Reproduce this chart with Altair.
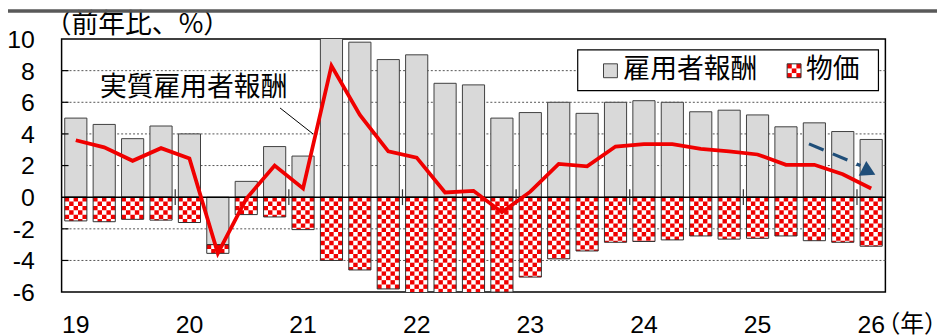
import math
import altair as alt
import pandas as pd

# ---------------- data ----------------
quarters = [
    "2019Q1", "2019Q2", "2019Q3", "2019Q4",
    "2020Q1", "2020Q2", "2020Q3", "2020Q4",
    "2021Q1", "2021Q2", "2021Q3", "2021Q4",
    "2022Q1", "2022Q2", "2022Q3", "2022Q4",
    "2023Q1", "2023Q2", "2023Q3", "2023Q4",
    "2024Q1", "2024Q2", "2024Q3", "2024Q4",
    "2025Q1", "2025Q2", "2025Q3", "2025Q4",
    "2026Q1",
]
year_labels = ["19", "20", "21", "22", "23", "24", "25", "26"]

# 雇用者報酬 (nominal compensation, % y/y)
comp = [5.0, 4.6, 3.7, 4.5, 4.0, -3.0, 1.0, 3.2, 2.6, 12.3,
        9.8, 8.7, 9.0, 7.2, 7.1, 5.0, 5.35, 6.0, 5.3, 6.0,
        6.1, 6.0, 5.4, 5.5, 5.2, 4.45, 4.7, 4.15, 3.65]
# 物価 (price contribution, % pt)
price = [-1.5, -1.55, -1.4, -1.45, -1.6, -0.55, -1.1, -1.25, -2.05, -4.0,
         -4.6, -5.8, -6.5, -6.9, -6.7, -6.0, -5.05, -3.9, -3.4, -2.85,
         -2.8, -2.7, -2.45, -2.65, -2.6, -2.45, -2.75, -2.85, -3.1]
# 実質雇用者報酬 (real compensation, % y/y)
real = [3.6, 3.15, 2.3, 3.1, 2.45, -3.55, -0.1, 2.0, 0.55, 8.3,
        5.2, 2.9, 2.5, 0.3, 0.4, -0.95, 0.35, 2.1, 1.95, 3.2,
        3.35, 3.35, 3.05, 2.9, 2.7, 2.05, 2.05, 1.45, 0.55]

grid_values = [-4, -2, 2, 4, 6, 8]
y_tick_values = [-6, -4, -2, 0, 2, 4, 6, 8, 10]

# annotation anchors (data coordinates)
annot_text = "実質雇用者報酬"
annot_pos = (4.15, 6.9)
leader = [(7.19, 5.64), (8.35, 4.0)]
arrow_shaft = [(25.81, 3.37), (27.62, 2.0)]
arrow_head = (27.92, 1.62)

# ---------------- tables ----------------
n = len(quarters)
half = 0.39
bars = pd.DataFrame({
    "q": quarters,
    "i": list(range(n)),
    "comp": comp,
    "price": price,
    "real": real,
})
bars["x0"] = bars["i"] - half
bars["x1"] = bars["i"] + half
bars["zero"] = 0.0
bars["ptop"] = [min(0.0, c) for c in comp]
bars["pbot"] = bars["ptop"] + bars["price"]

# checkerboard cells for the price bars
ncol = 5
cw = 2 * half / ncol
ch = 0.276
cells = []
for i, (c, p) in enumerate(zip(comp, price)):
    top = min(0.0, c)
    bot = top + p
    nrows = math.ceil((top - bot) / ch - 1e-9)
    for r in range(nrows):
        ya = top - r * ch
        yb = max(top - (r + 1) * ch, bot)
        for k in range(ncol):
            if (r + k) % 2 == 0:
                cells.append({"cx": i - half + k * cw, "cx2": i - half + (k + 1) * cw,
                              "cy": ya, "cy2": yb})
cells = pd.DataFrame(cells)

XS = alt.Scale(domain=[-0.5, n - 0.5], nice=False, zero=False)
YS = alt.Scale(domain=[-6, 10], nice=False, zero=False)

JP = "Noto Sans CJK JP"
NUM = "Liberation Sans"
RED = "#F00000"
BLUE = "#1F4E79"

base = alt.Chart(bars)

gray = base.mark_rect(fill="#D9D9D9", stroke="#404040", strokeWidth=1, clip=True).encode(
    x=alt.X("x0:Q", scale=XS, axis=None), x2="x1:Q",
    y=alt.Y("zero:Q", scale=YS, axis=None), y2="comp:Q",
)

grid = alt.Chart(pd.DataFrame({"g": grid_values})).mark_rule(
    color="#555555", strokeWidth=1, strokeDash=[2, 2]
).encode(y=alt.Y("g:Q", scale=YS, axis=None))

inner_ticks = alt.Chart(pd.DataFrame({"g": grid_values})).mark_rule(
    color="black", strokeWidth=1.2
).encode(y=alt.Y("g:Q", scale=YS, axis=None), x=alt.value(0), x2=alt.value(7))

pbg = base.mark_rect(fill="white", clip=True).encode(
    x=alt.X("x0:Q", scale=XS, axis=None), x2="x1:Q",
    y=alt.Y("ptop:Q", scale=YS, axis=None), y2="pbot:Q",
)

pcells = alt.Chart(cells).mark_rect(fill=RED, clip=True).encode(
    x=alt.X("cx:Q", scale=XS, axis=None), x2="cx2:Q",
    y=alt.Y("cy:Q", scale=YS, axis=None), y2="cy2:Q",
)

poutline = base.mark_rect(fillOpacity=0, stroke="#303030", strokeWidth=1, clip=True).encode(
    x=alt.X("x0:Q", scale=XS, axis=None), x2="x1:Q",
    y=alt.Y("ptop:Q", scale=YS, axis=None), y2="pbot:Q",
)

zero_line = alt.Chart(pd.DataFrame({"z": [0]})).mark_rule(color="black", strokeWidth=1.5).encode(
    y=alt.Y("z:Q", scale=YS, axis=None)
)

ytk = pd.DataFrame({"b": [4 * k - 0.5 for k in range(1, len(year_labels))]})
ytk["lo"] = -0.5
ytk["hi"] = 0.5
year_ticks = alt.Chart(ytk).mark_rule(color="#303030", strokeWidth=1.2).encode(
    x=alt.X("b:Q", scale=XS, axis=None),
    y=alt.Y("lo:Q", scale=YS, axis=None), y2="hi:Q",
)

# axis labels (drawn as text through the scales)
ylab = pd.DataFrame({"v": y_tick_values, "t": [str(v) for v in y_tick_values]})
y_labels = alt.Chart(ylab).mark_text(
    font=NUM, fontSize=25, color="black", align="right", baseline="middle", dy=1
).encode(x=alt.value(-27), y=alt.Y("v:Q", scale=YS, axis=None), text="t:N")

xlab = pd.DataFrame({"p": [4 * k for k in range(len(year_labels))], "t": year_labels})
x_labels = alt.Chart(xlab).mark_text(
    font=NUM, fontSize=25, color="black", align="center", baseline="top"
).encode(x=alt.X("p:Q", scale=XS, axis=None), y=alt.value(276), text="t:N")

line = base.mark_line(color=RED, strokeWidth=3.8, clip=True).encode(
    x=alt.X("i:Q", scale=XS, axis=None), y=alt.Y("real:Q", scale=YS, axis=None)
)

shaft_df = pd.DataFrame({"ax": [p[0] for p in arrow_shaft], "ay": [p[1] for p in arrow_shaft]})
shaft = alt.Chart(shaft_df).mark_line(color=BLUE, strokeWidth=3.2, strokeDash=[16, 10]).encode(
    x=alt.X("ax:Q", scale=XS, axis=None), y=alt.Y("ay:Q", scale=YS, axis=None)
)
head = alt.Chart(pd.DataFrame({"ax": [arrow_head[0]], "ay": [arrow_head[1]]})).mark_point(
    shape="triangle-up", angle=117, filled=True, size=280, color=BLUE, opacity=1
).encode(x=alt.X("ax:Q", scale=XS, axis=None), y=alt.Y("ay:Q", scale=YS, axis=None))

annot = alt.Chart(pd.DataFrame({"tx": [annot_pos[0]], "ty": [annot_pos[1]], "t": [annot_text]})).mark_text(
    font=JP, fontSize=27, color="black", align="center", baseline="middle"
).encode(x=alt.X("tx:Q", scale=XS, axis=None), y=alt.Y("ty:Q", scale=YS, axis=None), text="t:N")

leader_line = alt.Chart(pd.DataFrame({"lx": [p[0] for p in leader], "ly": [p[1] for p in leader]})).mark_line(
    color="black", strokeWidth=1
).encode(x=alt.X("lx:Q", scale=XS, axis=None), y=alt.Y("ly:Q", scale=YS, axis=None))

# legend (drawn by hand, pixel positions inside the plot area)
one = pd.DataFrame({"a": [0]})
legend_layers = [
    alt.Chart(one).mark_rect(fill="white", stroke="black", strokeWidth=1.2).encode(
        x=alt.value(520), x2=alt.value(823), y=alt.value(11), y2=alt.value(52)),
    alt.Chart(one).mark_rect(fill="#D9D9D9", stroke="#404040", strokeWidth=1).encode(
        x=alt.value(546), x2=alt.value(560), y=alt.value(25), y2=alt.value(39)),
    alt.Chart(one).mark_rect(fill="white").encode(
        x=alt.value(731), x2=alt.value(745), y=alt.value(25), y2=alt.value(39)),
]
sq = 14 / 3
for r in range(3):
    for k in range(3):
        if (r + k) % 2 == 0:
            legend_layers.append(
                alt.Chart(one).mark_rect(fill=RED).encode(
                    x=alt.value(731 + k * sq), x2=alt.value(731 + (k + 1) * sq),
                    y=alt.value(25 + r * sq), y2=alt.value(25 + (r + 1) * sq)))
legend_layers.append(
    alt.Chart(one).mark_rect(fillOpacity=0, stroke="#303030", strokeWidth=1).encode(
        x=alt.value(731), x2=alt.value(745), y=alt.value(25), y2=alt.value(39)))
legend_layers.append(
    alt.Chart(pd.DataFrame({"t": ["雇用者報酬"]})).mark_text(
        font=JP, fontSize=27, color="black", align="left", baseline="middle"
    ).encode(x=alt.value(566), y=alt.value(31.5), text="t:N"))
legend_layers.append(
    alt.Chart(pd.DataFrame({"t": ["物価"]})).mark_text(
        font=JP, fontSize=27, color="black", align="left", baseline="middle"
    ).encode(x=alt.value(750), y=alt.value(31.5), text="t:N"))

title = alt.Chart(pd.DataFrame({"t": ["（前年比、%）"]})).mark_text(
    font=JP, fontSize=27, color="black", align="left", baseline="middle"
).encode(x=alt.value(-17), y=alt.value(-14), text="t:N")

nen = alt.Chart(pd.DataFrame({"t": ["（年）"]})).mark_text(
    font=JP, fontSize=24, color="black", align="left", baseline="middle"
).encode(x=alt.value(821), y=alt.value(288), text="t:N")

# dark header band at the very top
band = alt.Chart(one).mark_rect(fill="#595959").encode(
    x=alt.value(-54), x2=alt.value(882), y=alt.value(-30), y2=alt.value(-26.5)
)

chart = alt.layer(
    grid, gray, pbg, pcells, poutline, zero_line, year_ticks, inner_ticks,
    line, shaft, head, leader_line, annot,
    *legend_layers, title, nen, y_labels, x_labels, band,
).properties(
    width=830, height=255,
    padding={"left": 54, "top": 30, "right": 52, "bottom": 45},
    autosize=alt.AutoSizeParams(type="none"),
).configure_view(stroke="black", strokeWidth=1.5)

chart.save("out.html", embed_options={"renderer": "svg", "actions": False})
